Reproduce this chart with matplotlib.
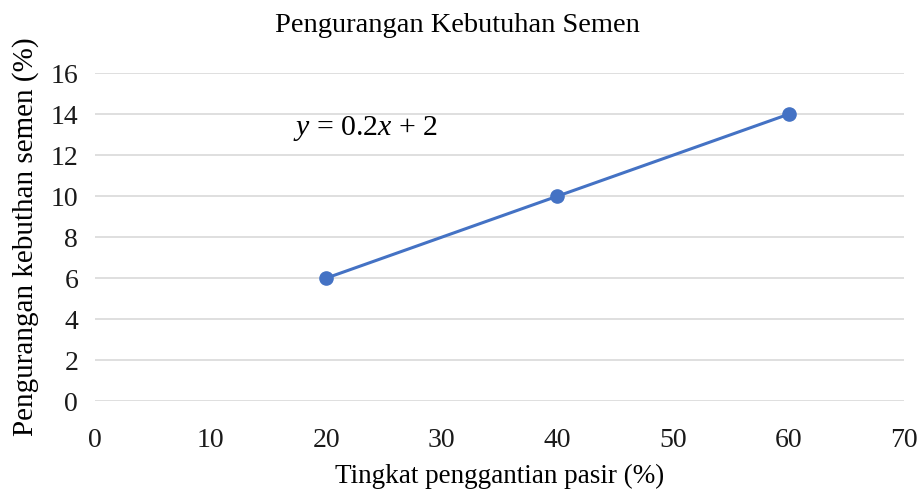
import matplotlib
matplotlib.use("Agg")
import matplotlib.pyplot as plt

# Sand replacement level vs. cement requirement reduction
replacement = [20, 40, 60]
reduction = [6, 10, 14]
x_ticks = [0, 10, 20, 30, 40, 50, 60, 70]
y_ticks = [0, 2, 4, 6, 8, 10, 12, 14, 16]

plt.rcParams['font.family'] = ['Liberation Serif', 'DejaVu Serif']
plt.rcParams['mathtext.fontset'] = 'custom'
plt.rcParams['mathtext.rm'] = 'Liberation Serif'
plt.rcParams['mathtext.it'] = 'Liberation Serif:italic'

fig = plt.figure(figsize=(9.21, 4.91), dpi=100)
ax = fig.add_axes([0.103, 0.183, 0.879, 0.668])

ax.plot(replacement, reduction, color='#4472C4', linewidth=2.2,
        marker='o', markersize=9.5, zorder=3)

ax.set_xlim(0, 70)
ax.set_ylim(0, 16)
ax.set_xticks(x_ticks)
ax.set_yticks(y_ticks)
ax.tick_params(axis='both', length=0, labelsize=20, colors='#1a1a1a')
ax.tick_params(axis='x', pad=19)
ax.tick_params(axis='y', pad=12)

ax.grid(axis='y', color='#D9D9D9', linewidth=1.2)
ax.set_axisbelow(True)
for s in ax.spines.values():
    s.set_visible(False)

ax.text(17.1, 13.3, r'$y$ = 0.2$x$ + 2', fontsize=21.5, va='center', ha='left')

fig.text(0.497, 0.948, 'Pengurangan Kebutuhan Semen', fontsize=20.5,
         ha='center', va='center')
ax.set_xlabel('Tingkat penggantian pasir (%)', fontsize=19.5, labelpad=8)
ax.set_ylabel('Pengurangan kebuthan semen (%)', fontsize=21, labelpad=8)

fig.savefig('out.png', dpi=100)
